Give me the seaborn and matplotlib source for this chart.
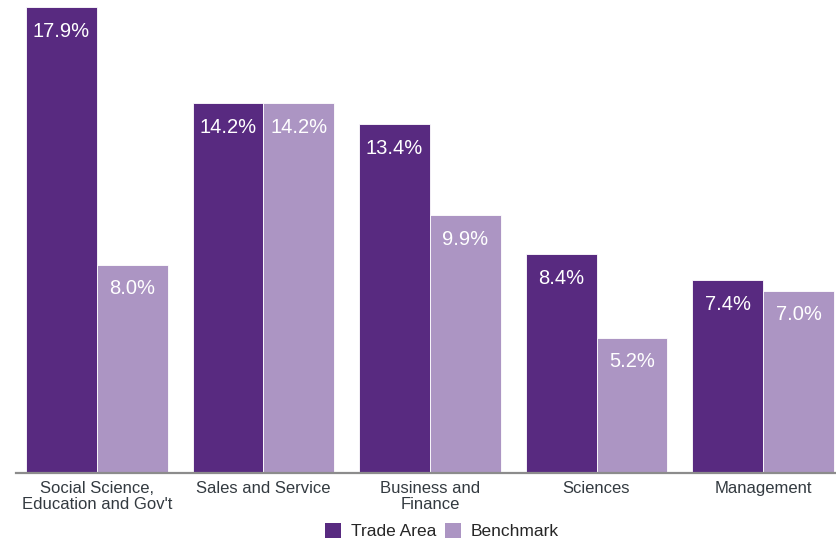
import matplotlib
matplotlib.use("Agg")
import matplotlib.pyplot as plt
import seaborn as sns
import pandas as pd
from matplotlib.patches import Patch

categories = ["Social Science,\nEducation and Gov't", "Sales and Service",
              "Business and\nFinance", "Sciences", "Management"]
trade_area = [17.9, 14.2, 13.4, 8.4, 7.4]
benchmark = [8.0, 14.2, 9.9, 5.2, 7.0]
series = ["Trade Area", "Benchmark"]
colors = ["#582A80", "#AC95C3"]

df = pd.DataFrame({
    "category": categories * 2,
    "value": trade_area + benchmark,
    "series": [series[0]] * len(categories) + [series[1]] * len(categories),
})

sns.set_theme(style="white")
plt.rcParams["font.family"] = ["Liberation Sans", "DejaVu Sans"]

fig = plt.figure(figsize=(8.37, 5.4), dpi=100)
ax = fig.add_axes([16 / 837, 67 / 540, 1 - 16 / 837, 1 - 67 / 540])

sns.barplot(data=df, x="category", y="value", hue="series", order=categories,
            hue_order=series, palette=colors, width=0.85, saturation=1,
            edgecolor="white", linewidth=0.6, ax=ax, legend=False)

ax.set_xlim(-0.486, 4.444)
ax.set_ylim(0, 18.17)
ax.set_xlabel("")
ax.set_ylabel("")
ax.set_yticks([])
for s in ["top", "right", "left"]:
    ax.spines[s].set_visible(False)
ax.spines["bottom"].set_color("#8c8c8c")
ax.spines["bottom"].set_linewidth(1.6)
ax.tick_params(axis="x", length=0, pad=6, labelsize=12, labelcolor="#333a40")
for lbl in ax.get_xticklabels():
    lbl.set_linespacing(1.05)

for cont in ax.containers:
    for bar in cont:
        h = bar.get_height()
        ax.annotate(f"{h:.1f}%", (bar.get_x() + bar.get_width() / 2, h),
                    xytext=(0, -24), textcoords="offset pixels",
                    ha="center", va="center", color="white", fontsize=14.5)

handles = [Patch(facecolor=c, edgecolor="none") for c in colors]
fig.legend(handles, series, loc="center", bbox_to_anchor=(0.528, 0.017),
           ncol=2, frameon=False, fontsize=12.5, handlelength=0.95,
           handleheight=0.95, handletextpad=0.55, columnspacing=0.5)

fig.savefig("out.png", dpi=100)
